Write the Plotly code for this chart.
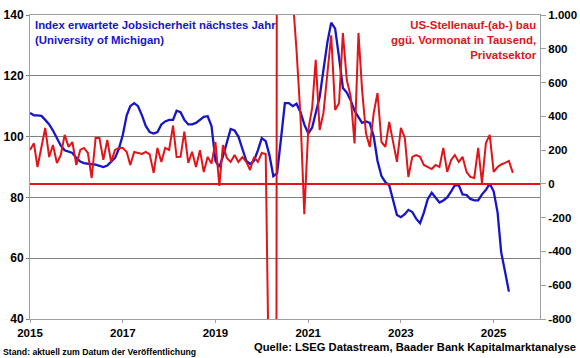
import pandas as pd
import plotly.graph_objects as go

# --- data (monthly, from Jan 2015) ---
red_values = [
    201, 240, 100, 213, 331, 159, 230, 124, 171, 290, 219, 248,   # 2015
    112, 201, 213, 183, 35, 272, 272, 142, 260, 130, 201, 213,    # 2016
    213, 189, 112, 189, 183, 177, 189, 175, 65, 213, 130, 213,    # 2017
    201, 345, 159, 160, 310, 124, 190, 100, 200, 70, 160, 120,    # 2018
    248, -12, 230, 153, 130, 171, 130, 159, 130, 82, 159, 130,    # 2019
    183, 177, -1400, -19800, 3200, 4700, 1500, 1100, 1100, 790, 400, -180,  # 2020
    319, 450, 734, 319, 420, 674, 880, 438, 479, 893, 615, 520,   # 2021
    240, 893, 560, 300, 219, 420, 538, 248, 219, 367, 242, 130,   # 2022
    331, 272, 41, 160, 171, 160, 112, 100, 88, 112, 100, 213,     # 2023
    71, 142, 171, 130, 160, 71, 41, 35, 213, 5, 242, 290,         # 2024
    71, 100, 115, 124, 136, 65,                                   # 2025
]
blue_values = [
    107.8, 107, 107, 106.8, 105.5, 104, 102, 99.5, 97, 95.5, 95, 94.6,        # 2015
    93, 91.8, 91.3, 91, 90.9, 90.8, 90.5, 90, 90.5, 91.8, 93, 96,             # 2016
    100.5, 107, 110, 111, 110, 107, 103.5, 101.5, 101, 101.5, 104, 105,       # 2017
    105.5, 105.5, 108.5, 108, 105.5, 104, 104, 104.5, 105.5, 106.5, 106.7, 103.5,  # 2018
    92, 90, 93.5, 98.5, 102.5, 102, 100, 96, 92, 91, 92, 95.5,                # 2019
    99.5, 98.5, 94, 87, 88, 99.5, 111, 111, 110, 110.8, 108, 104,             # 2020
    101, 103, 107.5, 113, 122, 131, 137.5, 135.5, 126, 116, 114.5, 112,       # 2021
    108.5, 106.3, 104.5, 105, 104.5, 100, 92, 87, 85, 84, 78.5, 74.2,         # 2022
    73.5, 74.5, 75.9, 75.2, 73, 71.5, 75, 79.5, 81.5, 80, 78.3, 79,           # 2023
    80, 82, 84, 84, 81, 80.8, 79.5, 79, 79, 81, 82.5, 84.5,                   # 2024
    82, 75, 62, 55.5, 49,                                                     # 2025
]
red_dates = pd.date_range("2015-01-01", periods=len(red_values), freq="MS")
blue_dates = pd.date_range("2015-01-01", periods=len(blue_values), freq="MS")

x_tick_vals = ["2015-01-01", "2017-01-01", "2019-01-01", "2021-01-01", "2023-01-01", "2025-01-01"]
x_tick_text = ["2015", "2017", "2019", "2021", "2023", "2025"]
left_tick_vals = [40, 60, 80, 100, 120, 140]
right_tick_vals = [-800, -600, -400, -200, 0, 200, 400, 600, 800, 1000]
right_tick_text = ["-800", "-600", "-400", "-200", "0", "200", "400", "600", "800", "1.000"]

BLUE = "#1616c8"
RED = "#e01419"
FONT = "Arial, Liberation Sans, sans-serif"

fig = go.Figure()
fig.add_trace(go.Scatter(x=red_dates, y=red_values, yaxis="y2", mode="lines",
                         line=dict(color=RED, width=2), name="US"))
fig.add_trace(go.Scatter(x=blue_dates, y=blue_values, yaxis="y", mode="lines",
                         line=dict(color=BLUE, width=2.3), name="Index"))

fig.add_shape(type="line", xref="paper", x0=0, x1=1, yref="y2", y0=0, y1=0,
              line=dict(color=RED, width=2))

fig.update_layout(
    width=580, height=358,
    margin=dict(l=30, r=40, t=15, b=39, autoexpand=False),
    paper_bgcolor="white", plot_bgcolor="white",
    showlegend=False,
    font=dict(family=FONT, color="black"),
    xaxis=dict(range=["2015-01-01", "2026-01-01"], tickvals=x_tick_vals, ticktext=x_tick_text,
               automargin=False,
               showgrid=False, showline=True, linecolor="#a0a0a0", linewidth=1, mirror=True,
               ticks="outside", ticklen=3, tickcolor="#a0a0a0",
               tickfont=dict(family=FONT, size=11.5, color="black", weight="bold")),
    yaxis=dict(range=[40, 140], tickvals=left_tick_vals, showgrid=True, gridcolor="#7f7f7f",
               automargin=False,
               gridwidth=1, showline=True, linecolor="#a0a0a0", zeroline=False,
               ticks="outside", ticklen=3, tickcolor="#7f7f7f",
               tickfont=dict(family=FONT, size=12, color="black", weight="bold")),
    yaxis2=dict(range=[-800, 1000], tickvals=right_tick_vals, ticktext=right_tick_text,
                automargin=False,
                overlaying="y", side="right", showgrid=False, zeroline=False,
                showline=True, linecolor="#a0a0a0", ticks="outside", ticklen=5, tickcolor="#a0a0a0",
                tickfont=dict(family=FONT, size=11.5, color="black", weight="bold")),
)

fig.add_annotation(xref="paper", yref="paper", x=0.005, y=0.995, xanchor="left", yanchor="top",
                   align="left", showarrow=False,
                   text="Index erwartete Jobsicherheit nächstes Jahr<br>(University of Michigan)",
                   font=dict(family=FONT, size=11.4, color=BLUE, weight="bold"))
fig.add_annotation(xref="paper", yref="paper", x=0.998, y=0.995, xanchor="right", yanchor="top",
                   align="right", showarrow=False,
                   text="US-Stellenauf-(ab-) bau<br>ggü. Vormonat in Tausend,<br>Privatsektor",
                   font=dict(family=FONT, size=11.4, color=RED, weight="bold"))
fig.add_annotation(xref="paper", yref="paper", x=-29/510, y=-32.5/304, xanchor="left", yanchor="middle",
                   showarrow=False, text="Stand: aktuell zum Datum der Veröffentlichung",
                   font=dict(family=FONT, size=8.7, color="black", weight="bold"))
fig.add_annotation(xref="paper", yref="paper", x=1 + 38/510, y=-28/304, xanchor="right", yanchor="middle",
                   showarrow=False, text="Quelle: LSEG Datastream, Baader Bank Kapitalmarktanalyse",
                   font=dict(family=FONT, size=11.2, color="black", weight="bold"))

# remove the browser's default 8px body margin so the figure fills the window
fig.write_html("out.html", config={"displayModeBar": False},
               post_script="document.body.style.margin='0';")
